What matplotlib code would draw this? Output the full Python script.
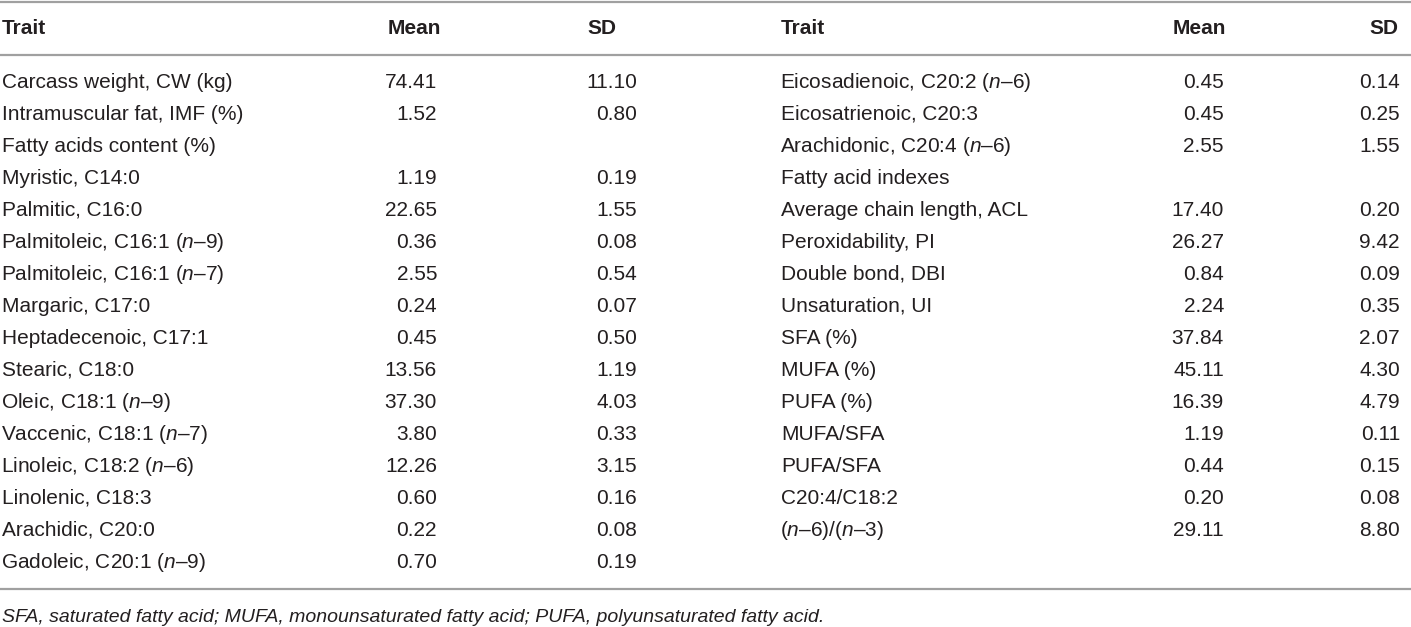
import matplotlib
matplotlib.use("Agg")
import matplotlib.pyplot as plt

FONT = "Liberation Sans"
plt.rcParams['font.family'] = [FONT, 'DejaVu Sans']
plt.rcParams['mathtext.fontset'] = 'custom'
plt.rcParams['mathtext.rm'] = FONT
plt.rcParams['mathtext.it'] = FONT + ':italic'
plt.rcParams['mathtext.bf'] = FONT + ':bold'

N = r"$\mathit{n}$"

left_traits = [
    "Carcass weight, CW (kg)",
    "Intramuscular fat, IMF (%)",
    "Fatty acids content (%)",
    "Myristic, C14:0",
    "Palmitic, C16:0",
    f"Palmitoleic, C16:1 ({N}–9)",
    f"Palmitoleic, C16:1 ({N}–7)",
    "Margaric, C17:0",
    "Heptadecenoic, C17:1",
    "Stearic, C18:0",
    f"Oleic, C18:1 ({N}–9)",
    f"Vaccenic, C18:1 ({N}–7)",
    f"Linoleic, C18:2 ({N}–6)",
    "Linolenic, C18:3",
    "Arachidic, C20:0",
    f"Gadoleic, C20:1 ({N}–9)",
]
left_mean = ["74.41", "1.52", "", "1.19", "22.65", "0.36", "2.55", "0.24", "0.45",
             "13.56", "37.30", "3.80", "12.26", "0.60", "0.22", "0.70"]
left_sd = ["11.10", "0.80", "", "0.19", "1.55", "0.08", "0.54", "0.07", "0.50",
           "1.19", "4.03", "0.33", "3.15", "0.16", "0.08", "0.19"]

right_traits = [
    f"Eicosadienoic, C20:2 ({N}–6)",
    "Eicosatrienoic, C20:3",
    f"Arachidonic, C20:4 ({N}–6)",
    "Fatty acid indexes",
    "Average chain length, ACL",
    "Peroxidability, PI",
    "Double bond, DBI",
    "Unsaturation, UI",
    "SFA (%)",
    "MUFA (%)",
    "PUFA (%)",
    "MUFA/SFA",
    "PUFA/SFA",
    "C20:4/C18:2",
    f"({N}–6)/({N}–3)",
]
right_mean = ["0.45", "0.45", "2.55", "", "17.40", "26.27", "0.84", "2.24", "37.84",
              "45.11", "16.39", "1.19", "0.44", "0.20", "29.11"]
right_sd = ["0.14", "0.25", "1.55", "", "0.20", "9.42", "0.09", "0.35", "2.07",
            "4.30", "4.79", "0.11", "0.15", "0.08", "8.80"]

headers = ["Trait", "Mean", "SD"]
footnote = "SFA, saturated fatty acid; MUFA, monounsaturated fatty acid; PUFA, polyunsaturated fatty acid."

W, H = 1411, 627
fig = plt.figure(figsize=(W / 100, H / 100), dpi=100)
ax = fig.add_axes([0, 0, 1, 1])
ax.set_xlim(0, W)
ax.set_ylim(H, 0)
ax.axis("off")

TXT = "#231f20"
LINE = "#a0a0a0"
FS = 15
CAP2 = 7.5            # half cap height in px
row0, step = 80, 32.0
header_y = 27

for y in (1.5, 55, 589):
    ax.plot([0, W], [y, y], color=LINE, lw=1.6, solid_capstyle="butt")

def draw_block(x_trait, x_mean_hdr, x_sd_hdr, x_mean, x_sd, traits, means, sds):
    for x, h in zip((x_trait, x_mean_hdr, x_sd_hdr), headers):
        ax.text(x, header_y + CAP2, h, fontsize=FS, fontweight="bold", color=TXT,
                ha="left", va="baseline")
    for i, (t, m, s) in enumerate(zip(traits, means, sds)):
        y = row0 + i * step + CAP2
        dx = -1 if "$" in t else 0
        ax.text(x_trait + dx, y, t, fontsize=FS, color=TXT, ha="left", va="baseline")
        if m:
            ax.text(x_mean, y, m, fontsize=FS, color=TXT, ha="right", va="baseline")
        if s:
            ax.text(x_sd, y, s, fontsize=FS, color=TXT, ha="right", va="baseline")

draw_block(2, 388, 587, 437, 637, left_traits, left_mean, left_sd)
draw_block(781, 1173, 1369, 1224, 1400, right_traits, right_mean, right_sd)

ax.text(2, 622, footnote, fontsize=14, style="italic", color=TXT,
        ha="left", va="baseline")

fig.savefig("out.png", dpi=100)
